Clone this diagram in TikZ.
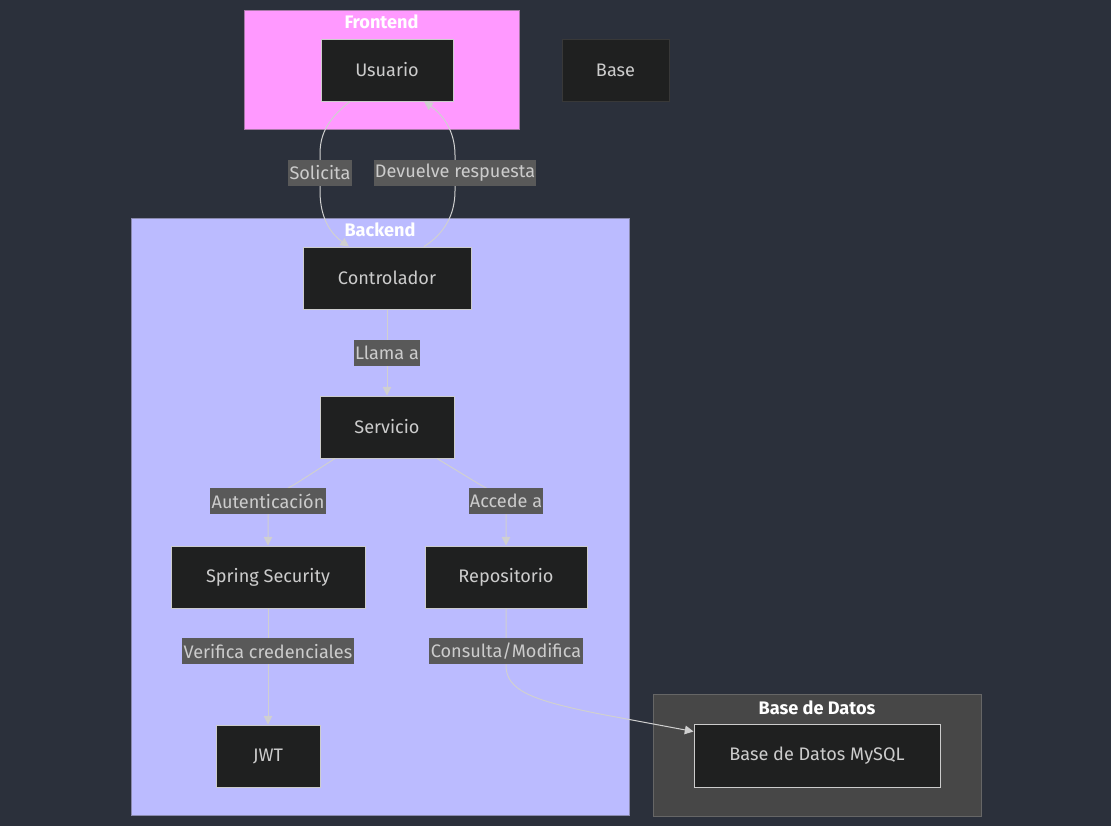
\documentclass[tikz,border=0pt]{standalone}
\usepackage{fontspec}
\setmainfont{Fira Sans}
\usetikzlibrary{arrows.meta,calc}
\definecolor{bg}{HTML}{2B303B}
\definecolor{nodefill}{HTML}{1F2020}
\definecolor{nodeline}{HTML}{CCCCCC}
\definecolor{baseline}{HTML}{383838}
\definecolor{nodetext}{HTML}{CCCCCC}
\definecolor{labelbg}{HTML}{595959}
\definecolor{edgecol}{HTML}{D0D0D0}
\definecolor{front}{HTML}{FF99FF}
\definecolor{frontline}{HTML}{A878A8}
\definecolor{back}{HTML}{BBBBFF}
\definecolor{backline}{HTML}{8A8AAE}
\definecolor{db}{HTML}{474747}
\definecolor{dbline}{HTML}{666666}
\begin{document}
\begin{tikzpicture}[x=0.75pt,y=-0.75pt,
  sz/.style 2 args={minimum width=#1*0.75pt, minimum height=#2*0.75pt},
  txt/.style={font=\fontsize{13.6}{16}\selectfont},
  box/.style={txt, draw=nodeline, fill=nodefill, text=nodetext, line width=0.75pt,
    inner sep=0pt},
  cluster/.style={line width=0.75pt, inner sep=0pt},
  ctitle/.style={text=white, font=\fontsize{13.6}{16}\selectfont\bfseries},
  elabel/.style={txt, fill=labelbg, text=nodetext, inner xsep=1pt, inner ysep=0pt,
    minimum height=26*0.75pt},
  edge/.style={draw=edgecol, line width=0.75pt,
    -{Triangle[length=6.5pt,width=6.5pt]}}]
\useasboundingbox (0,0) rectangle (1111,826);
\fill[bg] (0,0) rectangle (1111,826);

% groups
\node[cluster, fill=front, draw=frontline, sz={275}{119}] (frontend) at (381.5,69.5) {};
\node[ctitle] (frontendt) at (381.5,22) {Frontend};
\node[cluster, fill=back, draw=backline, sz={498}{597}] (backend) at (380,516.5) {};
\node[ctitle] (backendt) at (380,230) {Backend};
\node[cluster, fill=db, draw=dbline, sz={328}{122}] (dbgroup) at (817,755) {};
\node[ctitle] (dbgroupt) at (817,708) {Base de Datos};

% components
\node[box, sz={132}{62}] (usuario) at (387,70) {Usuario};
\node[box, draw=baseline, sz={107}{62}] (base) at (615.5,70) {Base};
\node[box, sz={168}{62}] (ctrl) at (387,278) {Controlador};
\node[box, sz={134}{62}] (serv) at (387,427) {Servicio};
\node[box, sz={194}{62}] (sec) at (268,577) {Spring Security};
\node[box, sz={162}{62}] (repo) at (506,577) {Repositorio};
\node[box, sz={104}{62}] (jwt) at (268,756) {JWT};
\node[box, sz={246}{63}] (mysql) at (817,755.5) {Base de Datos MySQL};

% connections
\draw[edge] ($(usuario.south)+(-37,0)$) .. controls (324,122) and (320,138) .. (320,155)
  -- node[elabel]{Solicita} (320,191)
  .. controls (320,222) and (334,236) .. ($(ctrl.north)+(-38,0)$);
\draw[edge] ($(ctrl.north)+(37,0)$) .. controls (444,234) and (455,215) .. (455,191)
  -- node[elabel]{Devuelve respuesta} (455,155)
  .. controls (455,130) and (442,114) .. ($(usuario.south)+(37,0)$);
\draw[edge] (ctrl.south) -- node[elabel]{Llama a} (serv.north);
\draw[edge] ($(serv.south)+(-52,0)$) -- (300,481)
  .. controls (280,494) and (268,496) .. (268,501) node[elabel]{Autenticación}
  -- (sec.north);
\draw[edge] ($(serv.south)+(50,0)$) -- (474,481)
  .. controls (495,494) and (506,496) .. (506,501) node[elabel]{Accede a}
  -- (repo.north);
\draw[edge] (sec.south) -- node[elabel,pos=0.37]{Verifica credenciales} (jwt.north);
\draw[edge] (repo.south) -- (506,651) node[elabel]{Consulta/Modifica} -- (506,665)
  .. controls (506,690) and (530,700) .. (600,714) -- ($(mysql.west)+(0,-24)$);
\end{tikzpicture}
\end{document}
